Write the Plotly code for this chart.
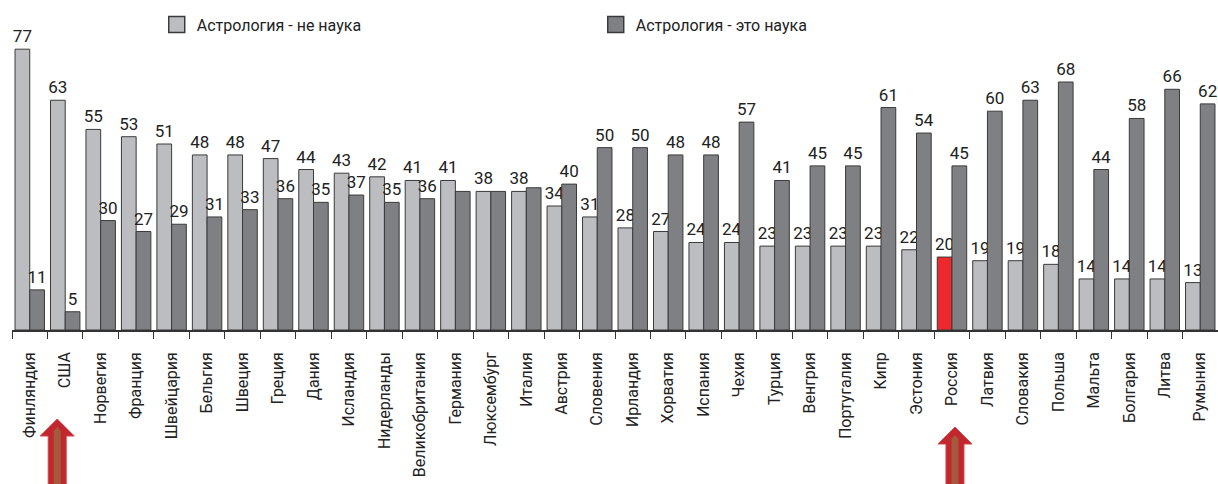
import plotly.graph_objects as go

countries = [
    "Финляндия", "США", "Норвегия", "Франция", "Швейцария", "Бельгия", "Швеция",
    "Греция", "Дания", "Исландия", "Нидерланды", "Великобритания", "Германия",
    "Люксембург", "Италия", "Австрия", "Словения", "Ирландия", "Хорватия",
    "Испания", "Чехия", "Турция", "Венгрия", "Португалия", "Кипр", "Эстония",
    "Россия", "Латвия", "Словакия", "Польша", "Мальта", "Болгария", "Литва",
    "Румыния",
]
not_science = [77, 63, 55, 53, 51, 48, 48, 47, 44, 43, 42, 41, 41, 38, 38, 34, 31,
               28, 27, 24, 24, 23, 23, 23, 23, 22, 20, 19, 19, 18, 14, 14, 14, 13]
science = [11, 5, 30, 27, 29, 31, 33, 36, 35, 37, 35, 36, 38, 38, 39, 40, 50,
           50, 48, 48, 57, 41, 45, 45, 61, 54, 45, 60, 63, 68, 44, 58, 66, 62]
# labels that the original leaves out
science_hidden = ["Германия", "Люксембург", "Италия"]
highlight = "Россия"
arrows_under = ["США", "Россия"]
series_names = ["Астрология - не наука", "Астрология - это наука"]

FONT = "Roboto, Liberation Sans, sans-serif"
LIGHT = "#bcbdc0"
DARK = "#7f8084"
RED = "#ec2a2e"
EDGE = "#3a3a3a"

light_colors = [RED if c == highlight else LIGHT for c in countries]
science_text = ["" if c in science_hidden else str(v) for c, v in zip(countries, science)]

fig = go.Figure()
fig.add_trace(go.Bar(
    x=countries, y=not_science, name=series_names[0], showlegend=False,
    marker=dict(color=light_colors, line=dict(color=EDGE, width=1)),
    text=[str(v) for v in not_science], textposition="outside",
    textfont=dict(family=FONT, size=17, color="#222"),
    constraintext="none", cliponaxis=False,
))
fig.add_trace(go.Bar(
    x=countries, y=science, name=series_names[1], showlegend=False,
    marker=dict(color=DARK, line=dict(color=EDGE, width=1)),
    text=science_text, textposition="outside",
    textfont=dict(family=FONT, size=17, color="#222"),
    constraintext="none", cliponaxis=False,
))
# legend entries with larger square swatches
for name, col in zip(series_names, [LIGHT, DARK]):
    fig.add_trace(go.Scatter(
        x=[None], y=[None], mode="markers", name=name,
        marker=dict(symbol="square", size=16, color=col, line=dict(color=EDGE, width=1.5)),
    ))

# red arrows below selected country labels (dx, tip in px tweaks per arrow)
arrow_tweaks = {"США": (-8, 419), "Россия": (3, 427)}
n = len(countries)
pw, base, ph = 1206, 330, 310
shapes = []
for name in arrows_under:
    dx, tip_px = arrow_tweaks[name]
    cx = (countries.index(name) + 0.5) / n + dx / pw
    hw, sw, iw = 17 / pw, 9 / pw, 3.5 / pw
    y_tip = (base - tip_px) / ph
    y_neck = (base - tip_px - 17) / ph
    y_end = -0.53
    shapes.append(dict(
        type="path", xref="paper", yref="paper",
        path=(f"M {cx},{y_tip} L {cx + hw},{y_neck} L {cx + sw},{y_neck} "
              f"L {cx + sw},{y_end} L {cx - sw},{y_end} L {cx - sw},{y_neck} "
              f"L {cx - hw},{y_neck} Z"),
        fillcolor="#c1272d", line=dict(color="#d0454a", width=1),
    ))
    shapes.append(dict(
        type="path", xref="paper", yref="paper",
        path=(f"M {cx},{y_tip - 8 / ph} L {cx + iw},{y_tip - 12 / ph} "
              f"L {cx + iw},{y_end} L {cx - iw},{y_end} L {cx - iw},{y_tip - 12 / ph} Z"),
        fillcolor="#a45a3e", line=dict(width=0),
    ))

fig.update_layout(
    width=1218, height=484,
    margin=dict(l=12, r=0, t=20, b=154),
    paper_bgcolor="white", plot_bgcolor="white",
    barmode="group", bargap=0.17, bargroupgap=0,
    font=dict(family=FONT, size=15, color="#222"),
    showlegend=True,
    legend=dict(
        orientation="h", x=0.12, y=0.985, xanchor="left", yanchor="middle",
        entrywidth=394, font=dict(family=FONT, size=16, color="#222"),
        bgcolor="rgba(0,0,0,0)",
    ),
    xaxis=dict(
        type="category", tickangle=-90, ticks="outside", ticklen=7,
        tickson="boundaries", tickcolor="#333", showline=True,
        linecolor="#333", linewidth=1.5, showgrid=False,
        ticklabelstandoff=14,
        tickfont=dict(family=FONT, size=16, color="#222"),
    ),
    yaxis=dict(range=[0, 85], visible=False),
    shapes=shapes,
)

# page without body margin so the 1218x484 figure fills the window exactly
fig.write_html(
    "out.html",
    config={"displayModeBar": False},
    post_script="document.body.style.margin='0';document.body.style.overflow='hidden';",
)
